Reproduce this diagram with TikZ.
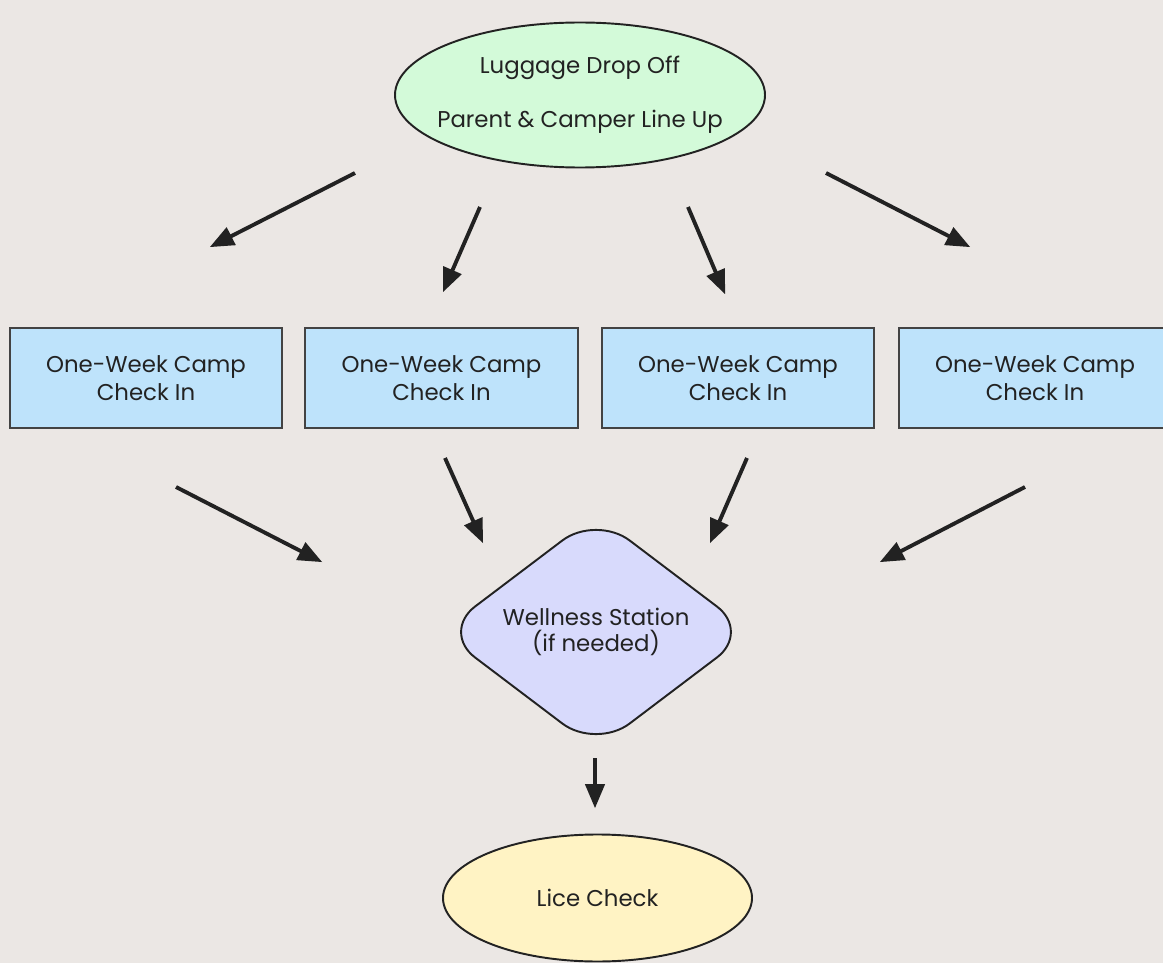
\documentclass[tikz,border=0pt]{standalone}
\usepackage{fontspec}
\setmainfont{Poppins}
\usepackage{tikz}
\usetikzlibrary{arrows,shapes,calc}
\definecolor{bgcol}{RGB}{235,231,228}
\definecolor{greenfill}{RGB}{211,250,217}
\definecolor{bluefill}{RGB}{190,227,251}
\definecolor{lavfill}{RGB}{216,218,252}
\definecolor{yellowfill}{RGB}{255,243,196}
\definecolor{inkcol}{RGB}{34,34,34}
\tikzstyle{ovalnode}=[ellipse, draw=inkcol, line width=1.1pt, text=inkcol, align=center, font=\fontsize{13}{15}\selectfont, inner sep=-0.3cm]
\tikzstyle{checkbox}=[rectangle, draw=inkcol!85, line width=1.4pt, fill=bluefill, text=inkcol, align=center, minimum width=5.45cm, minimum height=2cm, font=\fontsize{13}{16}\selectfont]
\tikzstyle{wellness}=[diamond, draw=inkcol, line width=1.1pt, fill=lavfill, text=inkcol, align=center, minimum width=6.2cm, minimum height=4.3cm, rounded corners=24pt, inner sep=0pt, font=\fontsize{13}{15}\selectfont]
\tikzstyle{flowarrow}=[-triangle 45, line width=2.2pt, draw=inkcol]

\begin{document}
\begin{tikzpicture}
	\fill[bgcol] (0,0) rectangle (23.26,-19.26);
	\useasboundingbox (0,0) rectangle (23.26,-19.26);
	% top and bottom
	\node[ovalnode, fill=greenfill, minimum width=7.4cm, minimum height=2.9cm] (dropoff) at (11.6,-1.9) {Luggage Drop Off\\[0.55cm]Parent \& Camper Line Up};
	\node[ovalnode, fill=yellowfill, minimum width=6.18cm, minimum height=2.54cm] (lice) at (11.95,-17.96) {Lice Check};
	% check in row
	\node[checkbox] (checkA) at (2.92,-7.56) {One-Week Camp\\Check In};
	\node[checkbox] (checkB) at (8.83,-7.56) {One-Week Camp\\Check In};
	\node[checkbox] (checkC) at (14.76,-7.56) {One-Week Camp\\Check In};
	\node[checkbox] (checkD) at (20.7,-7.56) {One-Week Camp\\Check In};
	\node[wellness] (station) at (11.92,-12.64) {Wellness Station\\(if needed)};
	% arrow ends
	\coordinate (topA) at (7.10,-3.46);
	\coordinate (topB) at (9.60,-4.14);
	\coordinate (topC) at (13.76,-4.14);
	\coordinate (topD) at (16.52,-3.46);
	\coordinate (inA) at (4.20,-4.94);
	\coordinate (inB) at (8.86,-5.84);
	\coordinate (inC) at (14.50,-5.88);
	\coordinate (inD) at (19.40,-4.94);
	\coordinate (outA) at (3.52,-9.74);
	\coordinate (outB) at (8.90,-9.16);
	\coordinate (outC) at (14.94,-9.16);
	\coordinate (outD) at (20.50,-9.74);
	\coordinate (wellA) at (6.44,-11.24);
	\coordinate (wellB) at (9.66,-10.86);
	\coordinate (wellC) at (14.20,-10.86);
	\coordinate (wellD) at (17.60,-11.24);
	\coordinate (liceTop) at (11.90,-15.16);
	\coordinate (liceIn) at (11.90,-16.16);
	\draw[flowarrow] (topA) -- (inA);
	\draw[flowarrow] (topB) -- (inB);
	\draw[flowarrow] (topC) -- (inC);
	\draw[flowarrow] (topD) -- (inD);
	\draw[flowarrow] (outA) -- (wellA);
	\draw[flowarrow] (outB) -- (wellB);
	\draw[flowarrow] (outC) -- (wellC);
	\draw[flowarrow] (outD) -- (wellD);
	\draw[flowarrow] (liceTop) -- (liceIn);
\end{tikzpicture}
\end{document}
